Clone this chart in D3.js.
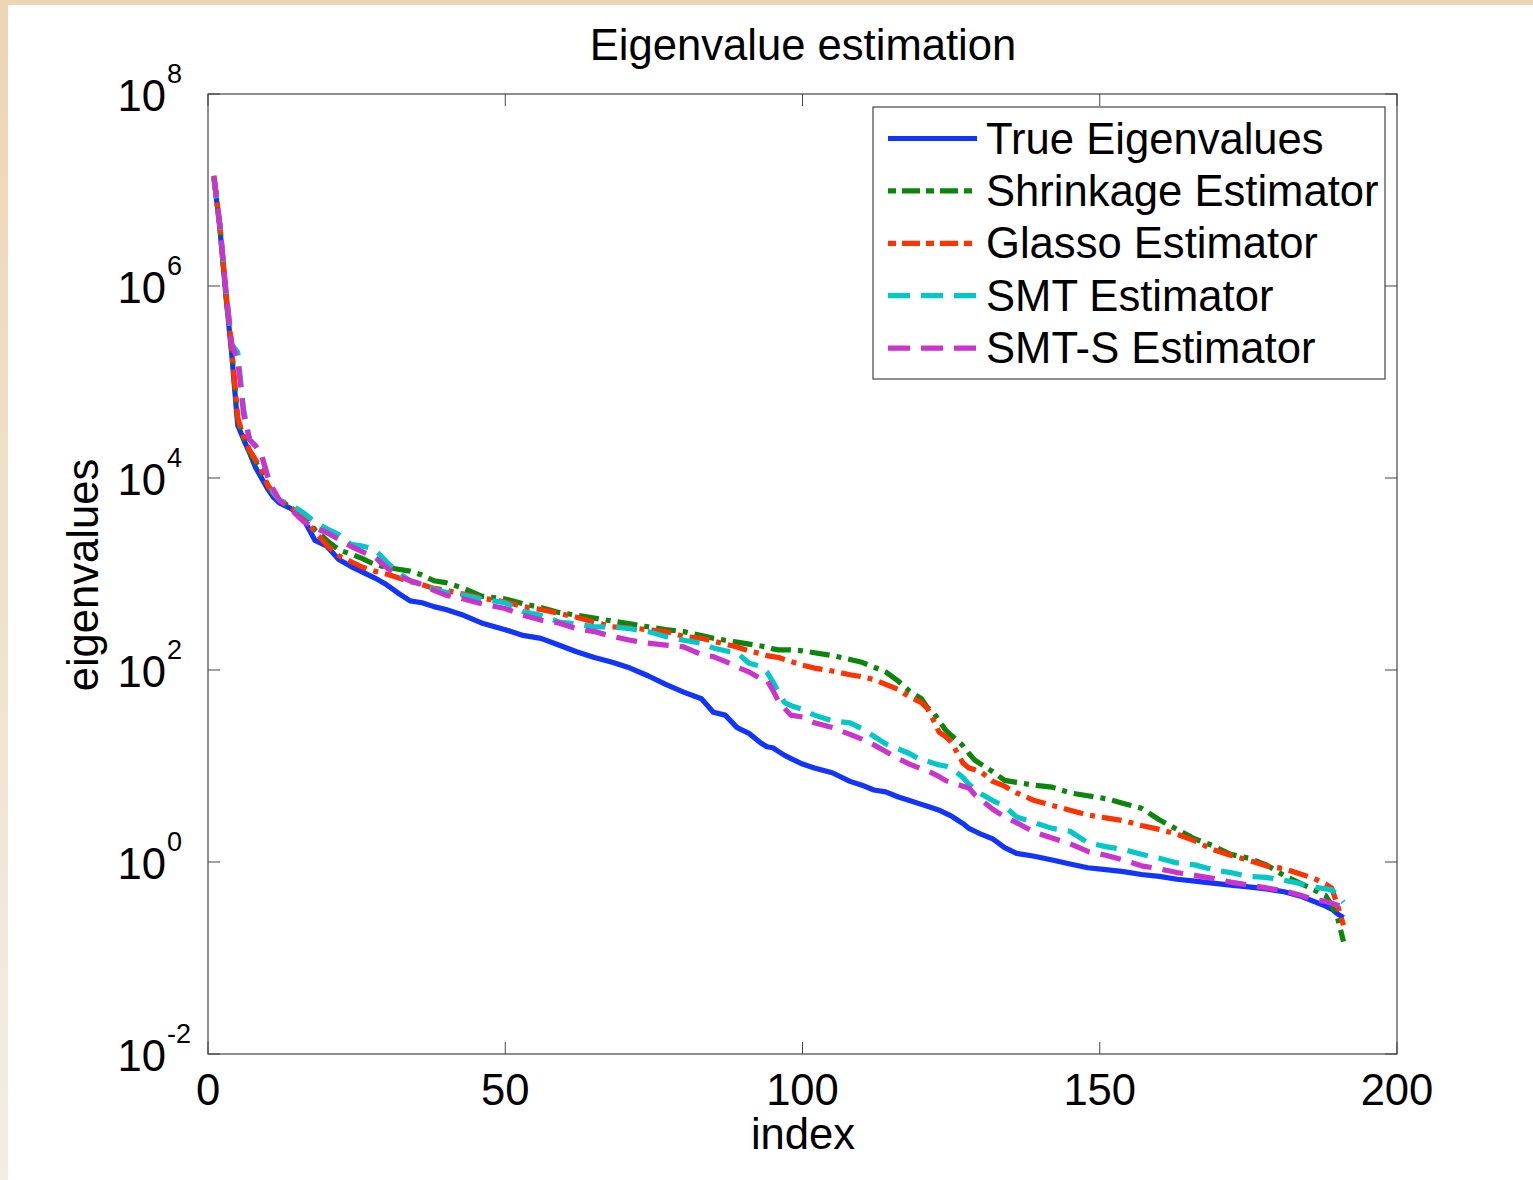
<!DOCTYPE html>
<html>
<head>
<meta charset="utf-8">
<script src="https://cdn.jsdelivr.net/npm/d3@7"></script>
<style>
  html, body { margin: 0; padding: 0; background: #ffffff; }
  svg { display: block; }
  text { font-family: Arial, "Liberation Sans", Helvetica, sans-serif; fill: #000; }
</style>
</head>
<body>
<svg id="chart" width="1533" height="1180"></svg>
<script>
// ---------------- DATA ----------------
const title = "Eigenvalue estimation";
const xLabel = "index";
const yLabel = "eigenvalues";
const xTicks = [0, 50, 100, 150, 200];
const yTickExponents = [-2, 0, 2, 4, 6, 8];
const seriesNames = ["True Eigenvalues", "Shrinkage Estimator", "Glasso Estimator", "SMT Estimator", "SMT-S Estimator"];

// sample indices (eigenvalue rank)
const sampleIndex = [1,2,3,4,5,6,7,8,9,10,11,12,14,16,18,20,22,24,26,28,30,32,34,36,38,40,43,46,50,53,56,59,62,65,68,71,74,77,80,83,85,87,89,91,93,94,95,96,97,98,100,102,105,108,110,112,114,116,118,120,121,122,123,124,125,126,127,128,129,130,132,134,136,139,142,145,148,151,154,157,160,163,166,169,172,175,178,181,184,186,188,189,190,191];

// log10 of the eigenvalues
const trueLog10 = [7.13,6.60,5.91,5.28,4.55,4.40,4.26,4.11,4.00,3.89,3.80,3.74,3.68,3.58,3.35,3.29,3.15,3.08,3.02,2.96,2.89,2.80,2.72,2.70,2.66,2.63,2.57,2.49,2.42,2.36,2.33,2.26,2.19,2.13,2.08,2.02,1.94,1.85,1.77,1.70,1.56,1.53,1.40,1.34,1.24,1.20,1.19,1.15,1.11,1.08,1.02,0.98,0.93,0.84,0.80,0.75,0.73,0.68,0.64,0.60,0.58,0.56,0.54,0.51,0.48,0.44,0.40,0.35,0.32,0.29,0.24,0.15,0.09,0.06,0.02,-0.02,-0.06,-0.08,-0.10,-0.13,-0.15,-0.18,-0.20,-0.22,-0.24,-0.26,-0.28,-0.31,-0.36,-0.41,-0.46,-0.49,-0.54,-0.58];
const shrinkLog10 = [7.13,6.63,5.91,5.33,4.60,4.43,4.27,4.17,4.06,3.93,3.84,3.77,3.69,3.60,3.46,3.35,3.25,3.21,3.16,3.10,3.07,3.05,3.03,2.99,2.93,2.91,2.85,2.77,2.74,2.69,2.65,2.60,2.57,2.54,2.51,2.48,2.45,2.42,2.40,2.36,2.33,2.31,2.29,2.27,2.25,2.24,2.22,2.21,2.21,2.21,2.20,2.18,2.15,2.11,2.08,2.03,1.98,1.89,1.78,1.70,1.61,1.56,1.47,1.38,1.32,1.27,1.21,1.13,1.06,1.02,0.94,0.85,0.83,0.80,0.78,0.72,0.69,0.66,0.61,0.56,0.44,0.34,0.24,0.17,0.08,0.04,-0.03,-0.14,-0.23,-0.29,-0.35,-0.45,-0.58,-0.83];
const glassoLog10 = [7.15,6.63,5.94,5.33,4.63,4.43,4.29,4.19,4.08,3.93,3.84,3.77,3.69,3.59,3.44,3.30,3.19,3.13,3.07,3.03,3.00,2.96,2.92,2.89,2.85,2.83,2.79,2.75,2.71,2.66,2.63,2.59,2.55,2.50,2.45,2.44,2.42,2.40,2.35,2.33,2.30,2.27,2.24,2.20,2.17,2.15,2.14,2.13,2.11,2.09,2.05,2.02,1.99,1.95,1.93,1.90,1.85,1.80,1.72,1.66,1.60,1.48,1.35,1.31,1.25,1.14,1.03,0.98,0.96,0.94,0.84,0.79,0.72,0.64,0.59,0.54,0.49,0.46,0.43,0.38,0.34,0.29,0.22,0.13,0.07,0.02,-0.04,-0.07,-0.13,-0.17,-0.23,-0.27,-0.45,-0.66];
const smtLog10 = [7.13,6.63,5.96,5.39,5.31,4.71,4.40,4.34,4.24,4.03,3.85,3.77,3.72,3.64,3.54,3.47,3.41,3.31,3.29,3.26,3.13,3.01,2.93,2.89,2.84,2.81,2.78,2.74,2.70,2.61,2.57,2.50,2.48,2.45,2.45,2.43,2.40,2.35,2.31,2.28,2.23,2.20,2.18,2.07,2.04,1.98,1.88,1.76,1.66,1.63,1.59,1.53,1.47,1.45,1.39,1.31,1.23,1.18,1.13,1.06,1.05,1.03,1.01,1.00,0.98,0.93,0.88,0.81,0.76,0.71,0.64,0.58,0.47,0.41,0.35,0.32,0.20,0.16,0.13,0.08,0.04,-0.01,-0.03,-0.08,-0.11,-0.15,-0.16,-0.19,-0.23,-0.26,-0.28,-0.29,-0.34,-0.42];
const smtsLog10 = [7.14,6.63,5.96,5.39,5.23,4.66,4.40,4.33,4.24,4.02,3.88,3.77,3.67,3.55,3.48,3.43,3.36,3.29,3.23,3.18,3.07,2.98,2.93,2.89,2.83,2.78,2.74,2.69,2.64,2.57,2.52,2.49,2.43,2.40,2.35,2.31,2.28,2.26,2.24,2.16,2.14,2.09,2.03,1.98,1.91,1.90,1.79,1.67,1.60,1.53,1.51,1.45,1.40,1.33,1.28,1.22,1.15,1.08,1.02,0.97,0.95,0.92,0.89,0.85,0.83,0.81,0.79,0.77,0.70,0.65,0.55,0.47,0.41,0.31,0.25,0.19,0.11,0.07,0.02,-0.04,-0.07,-0.11,-0.14,-0.17,-0.21,-0.24,-0.27,-0.30,-0.35,-0.39,-0.41,-0.43,-0.45,-0.47];

// ---------------- STYLE ----------------
const seriesLogs = [trueLog10, shrinkLog10, glassoLog10, smtLog10, smtsLog10];
const colors = ["#1234ff", "#0a870a", "#ff3300", "#00c8c8", "#cc33cc"];
const dashes = [null, "20,7,5,7", "20,7,5,7", "21,11", "21,11"];
const widths = [5.2, 5.2, 5.2, 5.2, 5.2];

const W = 1533, H = 1180;
const M = { left: 208, right: 1397, top: 94, bottom: 1054 };
const svg = d3.select("#chart");

// page background with tan frame gradient
const defs = svg.append("defs");
const grad = defs.append("linearGradient").attr("id", "leftband").attr("x1", 0).attr("y1", 0).attr("x2", 0).attr("y2", 1);
grad.append("stop").attr("offset", "0%").attr("stop-color", "#edd5b5");
grad.append("stop").attr("offset", "100%").attr("stop-color", "#f4ede4");
svg.append("rect").attr("x", 0).attr("y", 0).attr("width", W).attr("height", H).attr("fill", "#ffffff");
svg.append("rect").attr("x", 0).attr("y", 0).attr("width", W).attr("height", 5).attr("fill", "#edd5b5");
svg.append("rect").attr("x", 0).attr("y", 0).attr("width", 8).attr("height", H).attr("fill", "url(#leftband)");

const x = d3.scaleLinear().domain([0, 200]).range([M.left, M.right]);
const y = d3.scaleLog().domain([1e-2, 1e8]).range([M.bottom, M.top]);

const FS = 43.6;

// ticks (inside)
const tickLen = 12;
const tickColor = "#444";
const axisG = svg.append("g");
xTicks.forEach(t => {
  axisG.append("line").attr("x1", x(t)).attr("x2", x(t)).attr("y1", M.bottom).attr("y2", M.bottom - tickLen).attr("stroke", tickColor).attr("stroke-width", 1);
  axisG.append("line").attr("x1", x(t)).attr("x2", x(t)).attr("y1", M.top).attr("y2", M.top + tickLen).attr("stroke", tickColor).attr("stroke-width", 1);
  axisG.append("text").attr("x", x(t)).attr("y", 1105).attr("text-anchor", "middle").attr("font-size", FS).text(t);
});
yTickExponents.forEach(e => {
  const v = Math.pow(10, e);
  const yy = y(v);
  axisG.append("line").attr("x1", M.left).attr("x2", M.left + tickLen).attr("y1", yy).attr("y2", yy).attr("stroke", tickColor).attr("stroke-width", 1);
  axisG.append("line").attr("x1", M.right).attr("x2", M.right - tickLen).attr("y1", yy).attr("y2", yy).attr("stroke", tickColor).attr("stroke-width", 1);
  axisG.append("text").attr("x", 166).attr("y", yy + 16.5).attr("text-anchor", "end").attr("font-size", FS).text("10");
  axisG.append("text").attr("x", 167).attr("y", yy - 11).attr("text-anchor", "start").attr("font-size", 27).text(e);
});

// frame
svg.append("rect").attr("x", M.left).attr("y", M.top).attr("width", M.right - M.left).attr("height", M.bottom - M.top)
  .attr("fill", "none").attr("stroke", tickColor).attr("stroke-width", 1.2);

// lines
const line = d3.line().x(d => x(d[0])).y(d => y(d[1]));
seriesLogs.forEach((logs, i) => {
  const pts = sampleIndex.map((idx, k) => [idx, Math.pow(10, logs[k])]);
  const p = svg.append("path").datum(pts).attr("d", line)
    .attr("fill", "none").attr("stroke", colors[i]).attr("stroke-width", widths[i])
    .attr("stroke-linejoin", "round");
  if (dashes[i]) p.attr("stroke-dasharray", dashes[i]);
});

// titles
svg.append("text").attr("x", 803).attr("y", 60).attr("text-anchor", "middle").attr("font-size", FS).text(title);
svg.append("text").attr("x", 803).attr("y", 1149).attr("text-anchor", "middle").attr("font-size", FS).text(xLabel);
svg.append("text").attr("transform", "translate(98,575) rotate(-90)").attr("text-anchor", "middle").attr("font-size", FS).text(yLabel);

// legend
const lg = svg.append("g");
lg.append("rect").attr("x", 873).attr("y", 107).attr("width", 512).attr("height", 272)
  .attr("fill", "#fff").attr("stroke", tickColor).attr("stroke-width", 1.2);
seriesNames.forEach((name, i) => {
  const ly = 138.5 + i * 52.4;
  const l = lg.append("line").attr("x1", 888).attr("x2", 977).attr("y1", ly).attr("y2", ly)
    .attr("stroke", colors[i]).attr("stroke-width", widths[i]);
  if (dashes[i]) l.attr("stroke-dasharray", i >= 3 ? "22,11" : "8,6,18,6");
  lg.append("text").attr("x", 986).attr("y", ly + 15).attr("font-size", FS).text(name);
});
</script>
</body>
</html>
